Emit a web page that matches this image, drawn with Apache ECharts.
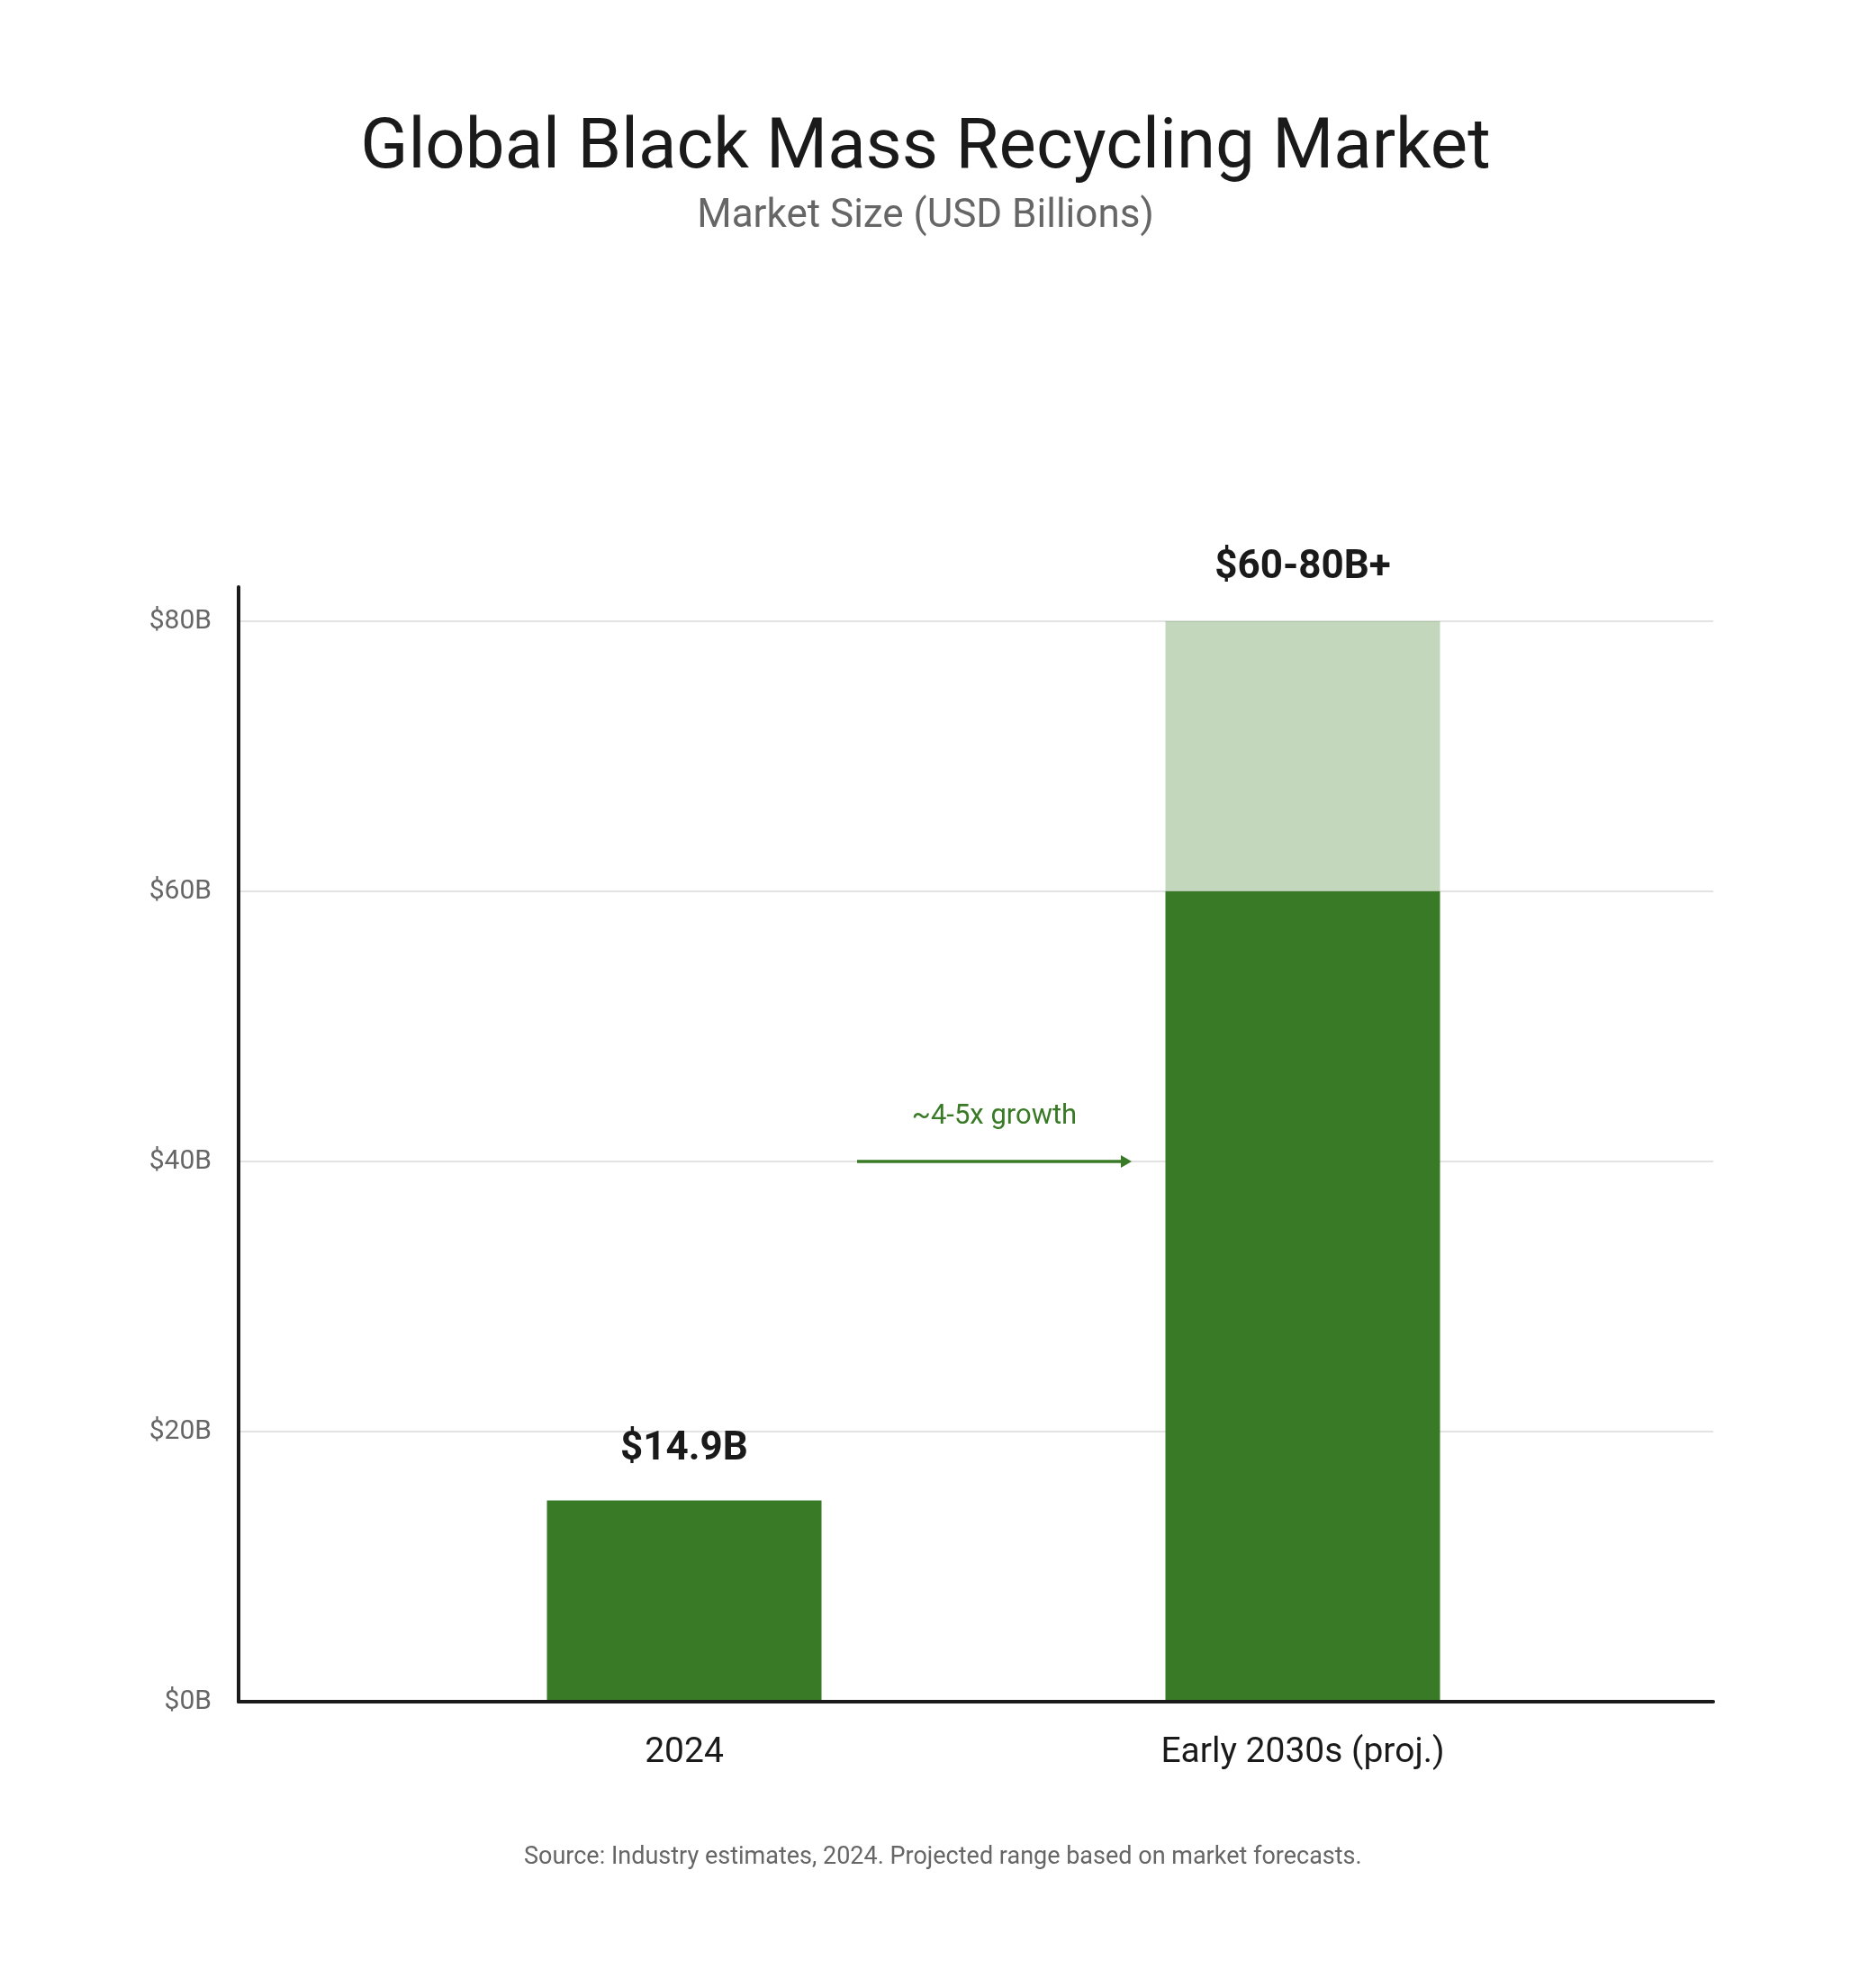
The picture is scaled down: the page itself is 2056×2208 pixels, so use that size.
<!DOCTYPE html>
<html>
<head>
    <meta charset="utf-8">
    <script src="https://cdn.jsdelivr.net/npm/echarts@6/dist/echarts.min.js"></script>
    <style>
        html, body { margin: 0; padding: 0; background: #fff; }
        #chart { width: 2056px; height: 2208px; }
    </style>
</head>
<body>
<div id="chart"></div>
<script type="text/javascript">
    // data
    var categories = ['2024', 'Early 2030s (proj.)'];
    var baseValues = [14.9, 60];        // solid part of each bar
    var rangeValues = [null, 20];       // projected range on top (60 -> 80)
    var valueLabels = ['$14.9B', '$60-80B+'];
    var yTicks = [0, 20, 40, 60, 80];
    var growthText = '~4-5x growth';
    var growthLevel = 40;

    var green = '#387a26';
    var greenLight = 'rgba(56,122,38,0.3)';
    var font = 'Roboto';

    var dom = document.getElementById('chart');
    var myChart = echarts.init(dom);

    var option = {
        backgroundColor: '#fff',
        animation: false,
        textStyle: { fontFamily: font },
        title: [
            {
                text: 'Global Black Mass Recycling Market',
                left: 'center',
                top: 122,
                textStyle: { fontSize: 78, fontWeight: 'normal', color: '#1a1a1a', fontFamily: font }
            },
            {
                text: 'Market Size (USD Billions)',
                left: 'center',
                top: 214,
                textStyle: { fontSize: 44, fontWeight: 'normal', color: '#666', fontFamily: font }
            },
            {
                text: 'Source: Industry estimates, 2024. Projected range based on market forecasts.',
                left: 577,
                top: 2045,
                textStyle: { fontSize: 27, fontWeight: 'normal', color: '#666', fontFamily: font }
            }
        ],
        grid: [
            // frame: the two axis lines (y line runs a bit above $80B)
            { left: 265, right: 153, top: 652, bottom: 318 },
            // gridlines + y labels
            { left: 265, right: 153, top: 690, bottom: 318 },
            // bars
            { left: 416.5, right: 265.5, top: 690, bottom: 318 }
        ],
        xAxis: [
            {
                gridIndex: 0, type: 'category', data: [''], z: 5,
                axisLine: { show: true, lineStyle: { color: '#1a1a1a', width: 4 } },
                axisTick: { show: false }, axisLabel: { show: false }, splitLine: { show: false }
            },
            { gridIndex: 1, type: 'category', data: [''], show: false },
            {
                gridIndex: 2, type: 'category', data: categories,
                axisLine: { show: false }, axisTick: { show: false },
                axisLabel: { color: '#1a1a1a', fontSize: 39, margin: 38, fontFamily: font }
            }
        ],
        yAxis: [
            {
                gridIndex: 0, type: 'value', min: 0, max: 82.53, z: 5,
                axisLine: { show: true, lineStyle: { color: '#1a1a1a', width: 4 } },
                axisTick: { show: false }, axisLabel: { show: false }, splitLine: { show: false }
            },
            {
                gridIndex: 1, type: 'value', min: yTicks[0], max: yTicks[yTicks.length - 1], interval: 20,
                axisLine: { show: false }, axisTick: { show: false },
                axisLabel: {
                    color: '#666', fontSize: 30, margin: 30, fontFamily: font,
                    formatter: function (v) { return '$' + v + 'B'; }
                },
                splitLine: { show: true, lineStyle: { color: '#e3e3e3', width: 2 } }
            },
            { gridIndex: 2, type: 'value', min: 0, max: 80, show: false }
        ],
        series: [
            {
                name: 'base',
                type: 'bar',
                stack: 'mkt',
                xAxisIndex: 2, yAxisIndex: 2,
                barWidth: 305,
                itemStyle: { color: green },
                data: baseValues.map(function (v, i) {
                    var item = { value: v };
                    if (rangeValues[i] == null) {
                        item.label = { show: true, formatter: valueLabels[i] };
                    }
                    return item;
                }),
                label: {
                    show: false, position: 'top', distance: 35,
                    fontSize: 44, fontWeight: 'bold', color: '#1a1a1a', fontFamily: font
                }
            },
            {
                name: 'range',
                type: 'bar',
                stack: 'mkt',
                xAxisIndex: 2, yAxisIndex: 2,
                barWidth: 305,
                itemStyle: { color: greenLight },
                data: rangeValues.map(function (v, i) {
                    if (v == null) return '-';
                    return { value: v, label: { show: true, formatter: valueLabels[i] } };
                }),
                label: {
                    show: false, position: 'top', distance: 37,
                    fontSize: 44, fontWeight: 'bold', color: '#1a1a1a', fontFamily: font
                }
            }
        ]
    };
    myChart.setOption(option);

    // growth arrow between the bars, at the $40B level
    var p1 = myChart.convertToPixel({ xAxisIndex: 2, yAxisIndex: 2 }, [categories[0], growthLevel]);
    var p2 = myChart.convertToPixel({ xAxisIndex: 2, yAxisIndex: 2 }, [categories[1], growthLevel]);
    var x0 = p1[0] + 192, x1 = p2[0] - 190, y = p1[1];
    myChart.setOption({
        graphic: [
            {
                type: 'line', z: 10,
                shape: { x1: x0, y1: y, x2: x1 - 10, y2: y },
                style: { stroke: green, lineWidth: 3.5 }
            },
            {
                type: 'polygon', z: 10,
                shape: { points: [[x1 - 12, y - 7], [x1, y], [x1 - 12, y + 7]] },
                style: { fill: green }
            },
            {
                type: 'text', z: 10,
                x: (x0 + x1) / 2, y: y - 34,
                style: {
                    text: growthText, fill: green, fontSize: 31, fontFamily: font,
                    align: 'center', verticalAlign: 'bottom'
                }
            }
        ]
    });
</script>
</body>
</html>
